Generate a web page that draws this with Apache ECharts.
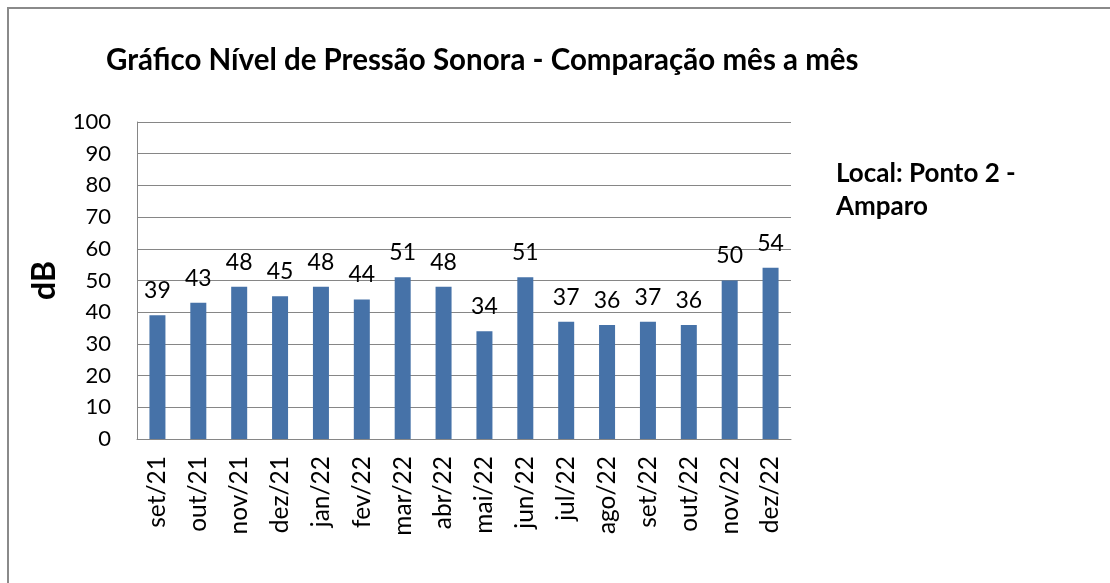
<!DOCTYPE html>
<html>
<head>
<meta charset="utf-8">
<script src="https://cdn.jsdelivr.net/npm/echarts@6/dist/echarts.min.js"></script>
<style>
  html, body { margin: 0; padding: 0; background: #fff; }
  #chart { width: 1110px; height: 583px; }
</style>
</head>
<body>
<div id="chart"></div>
<script>
// Monthly sound pressure level readings (dB) at Ponto 2 - Amparo
const months = ['set/21', 'out/21', 'nov/21', 'dez/21', 'jan/22', 'fev/22', 'mar/22', 'abr/22',
                'mai/22', 'jun/22', 'jul/22', 'ago/22', 'set/22', 'out/22', 'nov/22', 'dez/22'];
const levels = [39, 43, 48, 45, 48, 44, 51, 48, 34, 51, 37, 36, 37, 36, 50, 54];
const yTicks = { min: 0, max: 100, interval: 10 };

const font = 'Lato, "Open Sans", sans-serif';
const chart = echarts.init(document.getElementById('chart'), null, { renderer: 'canvas' });

chart.setOption({
  backgroundColor: '#ffffff',
  animation: false,
  textStyle: { fontFamily: font },
  title: {
    text: 'Gráfico Nível de Pressão Sonora - Comparação mês a mês',
    left: 101,
    top: 40,
    textStyle: { fontFamily: font, fontSize: 29.5, fontWeight: 'bold', color: '#000' }
  },
  grid: { left: 137, top: 122, right: 319, bottom: 144, containLabel: false },
  xAxis: {
    type: 'category',
    data: months,
    axisLine: { show: true, lineStyle: { color: '#868686', width: 1 } },
    axisTick: { show: false },
    axisLabel: {
      rotate: 90,
      interval: 0,
      margin: 17,
      color: '#000',
      fontSize: 24.5,
      fontFamily: font
    }
  },
  yAxis: {
    type: 'value',
    min: yTicks.min,
    max: yTicks.max,
    interval: yTicks.interval,
    name: 'dB',
    nameLocation: 'middle',
    nameGap: 76,
    nameRotate: 90,
    nameTextStyle: { fontFamily: font, fontSize: 32, fontWeight: 'bold', color: '#000' },
    axisLine: { show: true, lineStyle: { color: '#868686', width: 1 } },
    axisTick: { show: false },
    splitLine: { show: true, lineStyle: { color: '#868686', width: 1 } },
    axisLabel: { color: '#000', fontSize: 22, fontFamily: font, margin: 26 }
  },
  series: [{
    type: 'bar',
    data: levels,
    barWidth: 16,
    itemStyle: { color: '#4672A8' },
    label: {
      show: true,
      position: 'top',
      distance: 13,
      color: '#000',
      fontSize: 23,
      fontFamily: font
    }
  }],
  graphic: [
    {
      type: 'rect',
      shape: { x: 8, y: 8, width: 1200, height: 700 },
      style: { fill: 'none', stroke: '#8a8a8a', lineWidth: 2 },
      silent: true
    },
    {
      type: 'text',
      left: 836,
      top: 157,
      style: {
        text: 'Local: Ponto 2 -\nAmparo',
        fontFamily: font,
        fontSize: 26,
        fontWeight: 'bold',
        lineHeight: 33,
        fill: '#000'
      }
    }
  ]
});
</script>
</body>
</html>
